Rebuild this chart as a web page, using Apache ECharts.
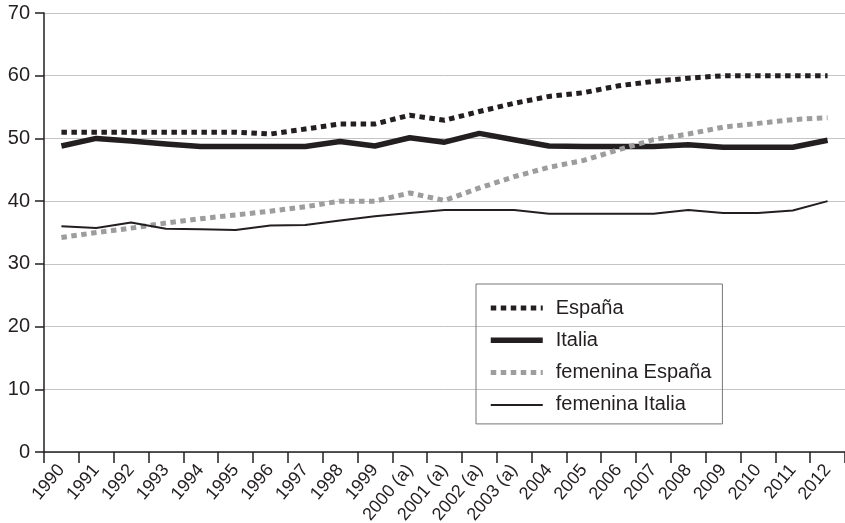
<!DOCTYPE html>
<html>
<head>
<meta charset="utf-8">
<script src="https://cdn.jsdelivr.net/npm/echarts@6/dist/echarts.min.js"></script>
<style>
  html, body { margin: 0; padding: 0; background: #fff; }
  #chart { width: 845px; height: 523px; }
</style>
</head>
<body>
<div id="chart"></div>
<script>
// años (eje x)
const years = ['1990', '1991', '1992', '1993', '1994', '1995', '1996', '1997', '1998', '1999',
  '2000 (a)', '2001 (a)', '2002 (a)', '2003 (a)', '2004', '2005', '2006', '2007', '2008',
  '2009', '2010', '2011', '2012'];

// series
const espana = [51, 51, 51, 51, 51, 51, 50.7, 51.5, 52.3, 52.3, 53.7, 52.9, 54.3, 55.6,
  56.7, 57.3, 58.4, 59.1, 59.6, 60, 60, 60, 60];
const italia = [48.8, 50, 49.6, 49.1, 48.7, 48.7, 48.7, 48.7, 49.5, 48.8, 50.1, 49.4, 50.8,
  49.8, 48.8, 48.7, 48.7, 48.7, 49, 48.6, 48.6, 48.6, 49.7];
const femEspana = [34.2, 35, 35.7, 36.5, 37.2, 37.8, 38.4, 39.1, 40, 40, 41.3, 40.1, 42.1,
  43.9, 45.4, 46.5, 48.2, 49.8, 50.7, 51.8, 52.4, 53, 53.3];
const femItalia = [36, 35.7, 36.6, 35.6, 35.5, 35.4, 36.1, 36.2, 36.9, 37.6, 38.1, 38.6,
  38.6, 38.6, 38, 38, 38, 38, 38.6, 38.1, 38.1, 38.5, 40];

const seriesNames = ['España', 'Italia', 'femenina España', 'femenina Italia'];

const chart = echarts.init(document.getElementById('chart'));
const font = '"Liberation Sans", Arial, sans-serif';
const ink = '#231f20';

function serie(name, data, color, width, type) {
  return {
    name: name,
    type: 'line',
    data: data,
    symbol: 'none',
    animation: false,
    lineStyle: { color: color, width: width, type: type, cap: 'butt', join: 'round' },
    itemStyle: { color: color }
  };
}

chart.setOption({
  animation: false,
  grid: { left: 44, right: 0, top: 13, bottom: 71, outerBoundsMode: 'none' },
  legend: {
    orient: 'vertical',
    left: 476,
    top: 284,
    padding: [14, 11, 9, 12],
    borderColor: '#777',
    borderWidth: 1,
    itemWidth: 52,
    itemHeight: 20,
    itemGap: 12.3,
    data: seriesNames,
    lineStyle: { width: 'inherit', type: 'inherit' },
    itemStyle: { opacity: 0 },
    textStyle: { fontFamily: font, fontSize: 20, lineHeight: 20, color: ink, padding: [0, 0, 0, 8] }
  },
  xAxis: {
    type: 'category',
    data: years,
    boundaryGap: true,
    axisLine: { lineStyle: { color: ink, width: 1.5 } },
    axisTick: { show: true, length: 11, lineStyle: { color: ink, width: 1.5 } },
    axisLabel: { rotate: 50, fontFamily: font, fontSize: 18, color: ink, margin: 15, interval: 0 }
  },
  yAxis: {
    type: 'value',
    min: 0,
    max: 70,
    interval: 10,
    axisLine: { show: true, lineStyle: { color: ink, width: 1.5 } },
    axisTick: { show: true, length: 9, lineStyle: { color: ink, width: 1.5 } },
    axisLabel: { fontFamily: font, fontSize: 20, color: ink, margin: 14 },
    splitLine: { lineStyle: { color: '#c4c4c4', width: 1 } }
  },
  series: [
    serie('España', espana, ink, 5, [5.5, 4.5]),
    serie('Italia', italia, ink, 5.5, 'solid'),
    serie('femenina España', femEspana, '#9d9d9d', 5, [5.5, 4.5]),
    serie('femenina Italia', femItalia, ink, 2, 'solid')
  ]
});

window.addEventListener('resize', chart.resize);
</script>
</body>
</html>
